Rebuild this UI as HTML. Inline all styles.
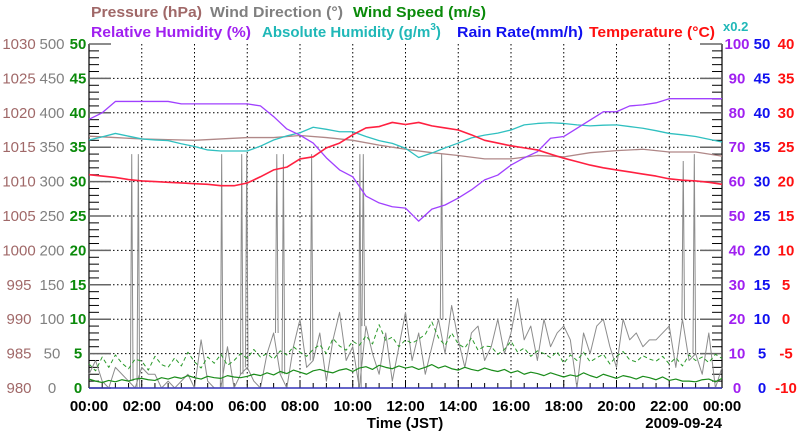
<!DOCTYPE html>
<html><head><meta charset="utf-8"><style>
html,body{margin:0;padding:0;background:#fff;}
svg{display:block;font-family:"Liberation Sans",sans-serif;}
</style></head><body>
<svg id="chart" width="800" height="434" viewBox="0 0 800 434" xmlns="http://www.w3.org/2000/svg">
<g id="titles" font-weight="bold" font-size="15">
<text x="91" y="17" fill="#a06868" textLength="111" lengthAdjust="spacingAndGlyphs">Pressure (hPa)</text>
<text x="210" y="17" fill="#808080" textLength="133" lengthAdjust="spacingAndGlyphs">Wind Direction (°)</text>
<text x="353" y="17" fill="#0a8a0a" textLength="133" lengthAdjust="spacingAndGlyphs">Wind Speed (m/s)</text>
<text x="91" y="37" fill="#a020f0" textLength="160" lengthAdjust="spacingAndGlyphs">Relative Humidity (%)</text>
<text x="262" y="37" fill="#20b8b8">Absolute Humidity (g/m<tspan font-size="10" dy="-7">3</tspan><tspan dy="7">)</tspan></text>
<text x="457" y="37" fill="#1010f0" textLength="126" lengthAdjust="spacingAndGlyphs">Rain Rate(mm/h)</text>
<text x="589" y="37" fill="#ff1010" textLength="126" lengthAdjust="spacingAndGlyphs">Temperature (°C)</text>
<text x="723" y="31" fill="#20b8b8" font-size="13">x0.2</text>
</g>
<g id="grid"></g>
<g id="axes"></g>
<g id="series"></g>
<g id="labels" font-size="15"></g>
<text x="405" y="428" text-anchor="middle" font-weight="bold" font-size="15" fill="#000">Time (JST)</text>
<text x="722" y="428" text-anchor="end" font-weight="bold" font-size="15" fill="#000">2009-09-24</text>
</svg>
<script>
// ---- data ----
const xTickLabels = ["00:00","02:00","04:00","06:00","08:00","10:00","12:00","14:00","16:00","18:00","20:00","22:00","00:00"];
const pressureTicks = [980,985,990,995,1000,1005,1010,1015,1020,1025,1030];
const windDirTicks = [0,50,100,150,200,250,300,350,400,450,500];
const windSpeedTicks = [0,5,10,15,20,25,30,35,40,45,50];
const humidityTicks = [0,10,20,30,40,50,60,70,80,90,100];
const rainTicks = [0,5,10,15,20,25,30,35,40,45,50];
const tempTicks = [-10,-5,0,5,10,15,20,25,30,35,40];

// hourly pressure (hPa)
const pressure = [1016.6,1016.4,1016.2,1016.1,1016.0,1016.2,1016.4,1016.4,1016.7,1016.4,1016.0,1015.3,1014.7,1014.2,1013.8,1013.3,1013.3,1013.8,1013.6,1014.2,1014.5,1014.7,1014.3,1014.3,1013.7];
// 30-min temperature (°C)
const temperature = [21.0,20.8,20.6,20.3,20.1,20.0,19.9,19.8,19.7,19.6,19.4,19.4,19.8,20.7,21.7,22.1,23.3,23.6,24.9,25.6,26.8,27.8,28.0,28.6,28.3,28.6,28.1,27.8,27.5,26.8,26.0,25.6,25.2,24.9,24.6,24.0,23.4,22.9,22.4,22.0,21.7,21.4,21.1,20.8,20.4,20.2,20.1,19.9,19.6];
// 30-min relative humidity (%)
const relHumidity = [78.1,80,83.3,83.3,83.3,83.3,83.3,82.6,82.6,82.6,82.6,82.6,82.6,82.0,78.9,75.3,73.5,71.2,66.9,63.4,61.4,55.8,53.8,52.7,52.3,48.5,52,53.2,55.2,57.6,60.5,61.9,64.8,66.9,68.7,72.6,73.1,75.5,77.9,80.3,80.3,82,82.3,82.9,84.1,84.1,84.1,84.1,84.1];
// 30-min absolute humidity (x0.2 scale units)
const absHumidity = [72.1,73,74.0,73.2,72.4,72.1,71.9,71,70.2,69.2,68.9,68.9,68.9,70.3,72.1,73.3,74.2,75.8,75.2,74.5,74.5,73.1,71.9,71.1,69.7,67,68.3,69.8,71.2,72.7,73.5,74.1,75,76.5,76.9,77.1,76.9,76.5,76.2,76.4,76.5,76,75.5,74.8,74,73.6,73.1,72.3,71.5];
// hourly rain rate (mm/h)
const rainRate = [0,0,0,0,0,0,0,0,0,0,0,0,0,0,0,0,0,0,0,0,0,0,0,0,0];
// 15-min wind speed avg and gust (m/s)
const windAvg = [1.3,1.0,0.8,1.1,0.9,1.2,1.0,1.3,1.4,1.2,1.1,1.5,1.3,
1.6,1.4,1.8,1.5,1.3,1.7,1.5,1.4,1.8,1.6,1.5,1.7,
2.0,1.8,2.2,1.9,2.4,2.1,2.6,2.3,2.0,2.5,2.7,2.4,
2.2,2.6,2.8,2.4,2.9,3.1,2.7,3.3,3.0,2.8,3.2,2.9,
3.1,2.7,3.0,3.4,2.9,3.2,2.8,2.6,3.0,2.7,2.5,2.9,
2.6,2.4,2.7,2.2,2.5,2.0,2.3,2.1,1.8,2.2,1.9,1.6,
1.9,1.7,2.2,1.8,1.5,2.0,1.7,1.4,1.8,1.6,1.3,1.7,
1.5,1.2,1.6,1.1,1.3,1.0,1.0,0.9,1.2,1.3,0.9,1.4];
const windGust = [3.5,2.5,4.5,3.0,4.8,3.6,2.8,4.2,3.9,2.6,4.6,3.4,3.0,
4.4,3.2,5.2,3.8,2.9,4.5,3.6,4.9,3.3,4.0,5.0,4.3,
5.6,4.5,5.0,4.2,5.4,4.8,6.0,5.2,4.6,5.6,6.3,5.0,
7.2,6.1,5.5,6.8,6.2,7.6,6.4,9.2,6.9,7.4,6.0,7.0,
6.5,7.1,7.8,9.6,7.3,6.2,8.0,6.4,5.8,7.3,5.5,6.1,
6.0,4.9,5.6,6.8,5.2,5.8,4.6,5.4,5.0,4.4,5.3,3.6,
4.8,4.0,5.2,3.8,4.4,4.9,3.5,4.6,5.3,4.1,3.8,4.7,
4.2,3.9,4.6,3.5,4.4,3.2,4.8,4.0,4.5,3.7,4.9,4.3];
// 15-min wind direction (deg)
const windDir = [20,40,10,0,30,20,10,0,30,20,20,0,10,
0,10,20,0,70,10,0,0,60,0,20,30,
10,0,50,80,20,0,60,100,30,40,80,10,
70,110,40,60,0,90,50,20,80,10,60,110,
40,80,20,60,100,50,120,70,30,80,90,40,
60,100,50,80,130,70,90,40,100,60,80,90,
70,0,80,50,90,100,60,30,100,70,80,60,
70,70,80,90,30,100,40,50,20,80,0,30];
// wind direction spikes (hour, deg)
const dirSpikeHours = [1.62,1.87,5.03,5.79,5.98,7.12,7.37,8.44,10.27,10.4,13.37,22.53,22.95];
const dirSpikeValues = [340,340,340,340,340,340,340,340,340,340,340,330,340];

// ---- layout ----
const L=89,R=722,T=44,B=388;
const NS="http://www.w3.org/2000/svg";
const xs = h => L + (R-L)*h/24;
const lin = (lo,hi) => v => B - (B-T)*(v-lo)/(hi-lo);
const yP=lin(980,1030), yWD=lin(0,500), yWS=lin(0,50), yH=lin(0,100), yRain=lin(0,50), yT=lin(-10,40);
function el(tag,attrs,parent){const e=document.createElementNS(NS,tag);for(const k in attrs)e.setAttribute(k,attrs[k]);parent.appendChild(e);return e;}
const grid=document.getElementById('grid'), axes=document.getElementById('axes'), series=document.getElementById('series'), labels=document.getElementById('labels');

// grid
for(let i=1;i<12;i++){const x=xs(i*2);
 const g=el('line',{x1:x,x2:x,y1:T,y2:B,stroke:'#000','stroke-width':1,'stroke-dasharray':'1.5,2.5'},grid);
 
 }
for(let i=1;i<10;i++){const y=B-(B-T)*i/10;
 const g=el('line',{x1:L,x2:R,y1:y,y2:y,stroke:'#000','stroke-width':1,'stroke-dasharray':'1.5,2.5'},grid);
 
 }
// axes
const axL=el('line',{x1:L,x2:L,y1:T,y2:B,stroke:'#000','stroke-width':1.2},axes);


const axR=el('line',{x1:R,x2:R,y1:T,y2:B,stroke:'#000','stroke-width':1.2},axes);


const axB=el('line',{x1:L,x2:R,y1:B,y2:B,stroke:'#000','stroke-width':1.2},axes);


for(let i=0;i<=50;i++){const y=B-(B-T)*i/50;const major=i%5===0;
 const a=el('line',{x1:L,x2:L+(major?22:10),y1:y,y2:y,stroke:major?'#666':'#000','stroke-width':major?1.5:1},axes);
 
 
 const b=el('line',{x1:R,x2:R-(major?22:10),y1:y,y2:y,stroke:major?'#666':'#000','stroke-width':major?1.5:1},axes);
 
 }
for(let i=0;i<=48;i++){const x=xs(i/2);
 const t=el('line',{x1:x,x2:x,y1:B,y2:B-(i%4===0?8:5),stroke:'#000','stroke-width':1},axes);
 
 }

// labels
function lab(txt,x,y,fill,bold,name){const t=el('text',{x:x,y:y,fill:fill,'text-anchor':'middle','font-weight':bold?'bold':'normal'},labels);t.textContent=txt;
 
 }
for(let i=0;i<11;i++){const y=B-(B-T)*i/10+5;
 lab(pressureTicks[i],19,y,'#a06868',false,'pressure-tick-label');
 lab(windDirTicks[i],52,y,'#808080',false,'wind-direction-tick-label');
 lab(windSpeedTicks[i],78,y,'#0a8a0a',true,'wind-speed-tick-label');
 lab(humidityTicks[i],737,y,'#a020f0',true,'humidity-tick-label');
 lab(rainTicks[i],762,y,'#1010f0',true,'rain-tick-label');
 lab(tempTicks[i],786,y,'#ff1010',true,'temperature-tick-label');}
xTickLabels.forEach((s,i)=>lab(s,xs(i*2),411,'#000',true,'x-tick-label'));

// series
function line(vals,step,yf,color,w,name,dash){
 const pts=vals.map((v,i)=>xs(i*step).toFixed(2)+','+yf(v).toFixed(2)).join(' ');
 const p=el('polyline',{points:pts,fill:'none',stroke:color,'stroke-width':w,'stroke-linejoin':'round'},series);
 if(dash)p.setAttribute('stroke-dasharray',dash);
 
 
 return p;}
line(windDir,0.25,yWD,'#8c8c8c',1,'wind-direction-line');
dirSpikeHours.forEach((h,i)=>{
 const idx=Math.min(Math.round(h/0.25),windDir.length-1);const base=yWD(windDir[idx]);
 const pts=[xs(h-0.05)+','+base,xs(h)+','+yWD(dirSpikeValues[i]),xs(h+0.05)+','+base].join(' ');
 const s=el('polyline',{points:pts,fill:'none',stroke:'#8c8c8c','stroke-width':1},series);
 
 });
line(windGust,0.25,yWS,'#2a9a2a',1,'wind-gust-line','4,3');
line(windAvg,0.25,yWS,'#1a8c1a',1.2,'wind-speed-line');
line(rainRate,1,yRain,'#3030d0',1.2,'rain-rate-line');
line(pressure,1,yP,'#b08888',1.3,'pressure-line');
line(absHumidity,0.5,yH,'#30c0c0',1.3,'absolute-humidity-line');
line(relHumidity,0.5,yH,'#a040ff',1.3,'relative-humidity-line');
line(temperature,0.5,yT,'#ff2040',1.6,'temperature-line');
</script>
</body></html>
